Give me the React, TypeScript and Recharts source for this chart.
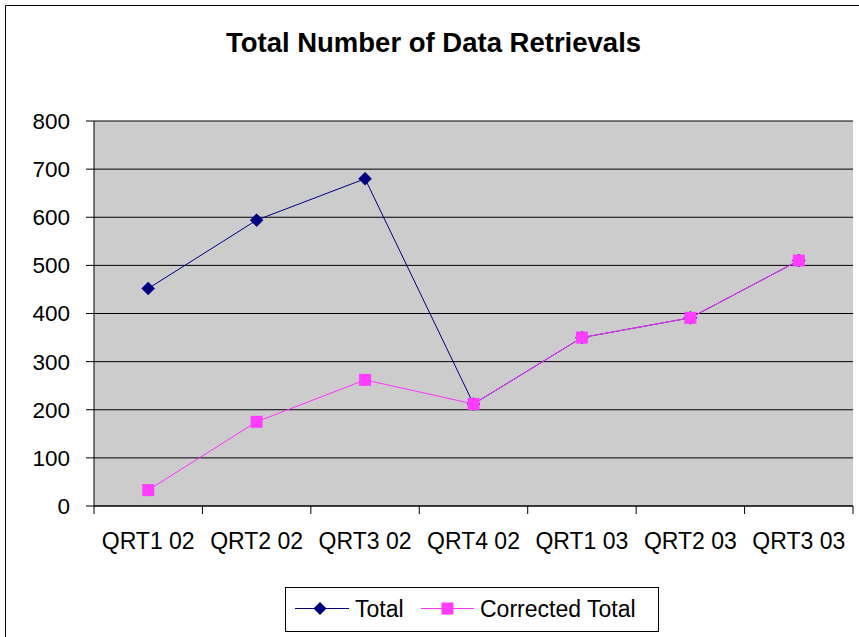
import React from 'react';
import { LineChart, Line, XAxis, YAxis, CartesianGrid } from 'recharts';

const categories = ['QRT1 02', 'QRT2 02', 'QRT3 02', 'QRT4 02', 'QRT1 03', 'QRT2 03', 'QRT3 03'];
const totalValues = [452, 594, 680, 212, 350, 391, 510];
const correctedValues = [33, 175, 262, 212, 350, 391, 510];
const yTicks = [0, 100, 200, 300, 400, 500, 600, 700, 800];
const seriesNames = ['Total', 'Corrected Total'];
const title = 'Total Number of Data Retrievals';

const FONT = '"Liberation Sans", Arial, sans-serif';
const TOTAL_COLOR = '#000080';
const CORR_LINE = '#FF33FF';
const CORR_MARK = '#FF3CFF';

const data = categories.map((name, i) => ({
  pos: i + 0.5,
  name,
  total: totalValues[i],
  corrected: correctedValues[i],
}));

const xTicks: number[] = [];
for (let i = 0; i <= categories.length; i++) {
  xTicks.push(i);
  if (i < categories.length) xTicks.push(i + 0.5);
}

const XTick = (props: any) => {
  const { x, y, payload } = props;
  const v = payload.value;
  if (Number.isInteger(v)) {
    return <line x1={x} x2={x} y1={y} y2={y + 8} stroke="#000" strokeWidth={1} />;
  }
  return (
    <text x={x} y={y + 43} textAnchor="middle" fontSize={23} fontFamily={FONT} fill="#000">
      {categories[Math.floor(v)]}
    </text>
  );
};

const Diamond = (props: any) => {
  const { cx, cy, index } = props;
  if (cx == null || cy == null) return <g key={`d${index}`} />;
  const r = 6.5;
  return (
    <polygon
      key={`d${index}`}
      points={`${cx},${cy - r} ${cx + r},${cy} ${cx},${cy + r} ${cx - r},${cy}`}
      fill={TOTAL_COLOR}
      stroke={TOTAL_COLOR}
      strokeWidth={0.5}
    />
  );
};

const Square = (props: any) => {
  const { cx, cy, index } = props;
  if (cx == null || cy == null) return <g key={`s${index}`} />;
  const h = 6;
  return <rect key={`s${index}`} x={cx - h} y={cy - h} width={2 * h} height={2 * h} fill={CORR_MARK} />;
};

export default function App() {
  return (
    <div style={{ position: 'absolute', left: 0, top: 0, width: 859, height: 637, overflow: 'hidden', background: '#fff' }}>
      <svg width={859} height={637} style={{ position: 'absolute', left: 0, top: 0 }}>
        <line x1={5.5} y1={5.5} x2={859} y2={5.5} stroke="#000" strokeWidth={1} />
        <line x1={5.5} y1={5.5} x2={5.5} y2={637} stroke="#000" strokeWidth={1} />
        <text x={433.5} y={52} textAnchor="middle" fontSize={27.5} fontWeight="bold" fontFamily={FONT} fill="#000">
          {title}
        </text>
        <rect x={285.5} y={587.5} width={373} height={44} fill="#fff" stroke="#000" strokeWidth={1} />
        <line x1={295} x2={349} y1={608.5} y2={608.5} stroke={TOTAL_COLOR} strokeWidth={1} />
        <polygon points="320,602 326.5,608.5 320,615 313.5,608.5" fill={TOTAL_COLOR} />
        <text x={355} y={616.5} fontSize={23} fontFamily={FONT} fill="#000">{seriesNames[0]}</text>
        <line x1={421} x2={474} y1={608.5} y2={608.5} stroke={CORR_LINE} strokeWidth={1} />
        <rect x={441.5} y={602.5} width={12} height={12} fill={CORR_MARK} />
        <text x={480} y={616.5} fontSize={23} fontFamily={FONT} fill="#000">{seriesNames[1]}</text>
      </svg>
      <div style={{ position: 'absolute', left: 0, top: 0 }}>
        <LineChart width={859} height={637} data={data} margin={{ top: 121, right: 6, bottom: 81, left: 34 }}>
          <CartesianGrid vertical={false} stroke="#000" fill="#CCCCCC" fillOpacity={1} />
          <XAxis
            dataKey="pos"
            type="number"
            domain={[0, categories.length]}
            ticks={xTicks}
            interval={0}
            tick={<XTick />}
            tickLine={false}
            tickSize={0}
            tickMargin={0}
            height={50}
            axisLine={{ stroke: '#000' }}
          />
          <YAxis
            domain={[0, 800]}
            ticks={yTicks}
            interval={0}
            width={60}
            tickSize={8}
            tickMargin={16}
            tick={{ fontSize: 22.5, fontFamily: FONT, fill: '#000' }}
            tickLine={{ stroke: '#000' }}
            axisLine={{ stroke: '#000' }}
          />
          <YAxis
            yAxisId="r"
            orientation="right"
            width={0}
            tick={false}
            tickLine={false}
            axisLine={{ stroke: '#999' }}
          />
          <Line
            dataKey="total"
            name={seriesNames[0]}
            stroke={TOTAL_COLOR}
            strokeWidth={1}
            dot={Diamond}
            activeDot={false}
            isAnimationActive={false}
          />
          <Line
            dataKey="corrected"
            name={seriesNames[1]}
            stroke={CORR_LINE}
            strokeWidth={1}
            dot={Square}
            activeDot={false}
            isAnimationActive={false}
          />
        </LineChart>
      </div>
    </div>
  );
}
